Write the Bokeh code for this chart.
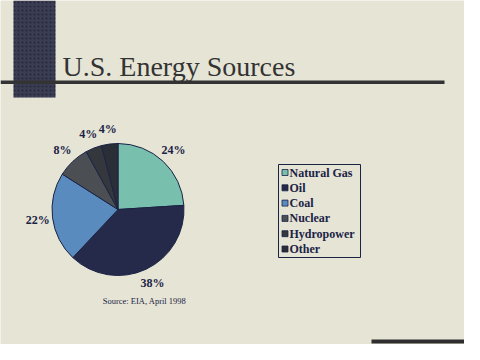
import math
from bokeh.plotting import figure
from bokeh.models import Range1d, ColumnDataSource
from bokeh.core.properties import value
from bokeh.embed import file_html
from bokeh.resources import INLINE

# ---- data ----
title_text = "U.S. Energy Sources"
source_note = "Source: EIA, April 1998"
categories = ["Natural Gas", "Oil", "Coal", "Nuclear", "Hydropower", "Other"]
shares = [24, 38, 22, 8, 4, 4]
colors = ["#78bfae", "#252a4a", "#5a8bbf", "#4b4e52", "#34373c", "#2a2e36"]

# ---- layout (reference pixel coordinates) ----
PW, PH = 464, 344
BG = "#e5e4d5"
NAVY = "#1b2345"

p = figure(width=PW, height=PH,
           x_range=Range1d(0, PW), y_range=Range1d(PH, 0),
           output_backend="svg", toolbar_location=None,
           x_axis_location=None, y_axis_location=None,
           min_border=0, background_fill_color=BG, border_fill_color=BG)
p.outline_line_color = None
p.xgrid.visible = False
p.ygrid.visible = False

# decorations
p.quad(left=13, right=55, top=0, bottom=97, fill_color="#3a3d54", line_color=None,
       hatch_pattern="dot", hatch_color="#262836", hatch_scale=4, hatch_weight=1.5)
p.quad(left=0, right=444, top=80, bottom=83.5, fill_color="#333333", line_color=None)
p.quad(left=371, right=PW, top=339, bottom=343, fill_color="#2e2e2e", line_color=None)

# title
p.text(x=[62], y=[66], text=[title_text], text_font=value("Liberation Serif"),
       text_font_size="28px", text_color="#333333", text_baseline="alphabetic",
       text_align="left")

# pie
cx, cy, r = 117.5, 209, 66
total = sum(shares)
starts, ends, mids = [], [], []
acc = 0.0
for s in shares:
    a0 = math.pi / 2 - 2 * math.pi * acc / total
    a1 = math.pi / 2 - 2 * math.pi * (acc + s) / total
    starts.append(a0)
    ends.append(a1)
    mids.append((a0 + a1) / 2)
    acc += s

src = ColumnDataSource(dict(start=starts, end=ends, color=colors))
p.wedge(x=cx, y=cy, radius=r, start_angle="start", end_angle="end",
        direction="clock", fill_color="color", line_color=NAVY, line_width=1,
        source=src)

lr = 81
lx = [cx + lr * math.cos(m) for m in mids]
ly = [cy - lr * math.sin(m) for m in mids]
p.text(x=lx, y=ly, text=[f"{s}%" for s in shares], text_font=value("Liberation Serif"),
       text_font_size="12px", text_font_style="bold", text_color=NAVY,
       text_align="center", text_baseline="middle")

p.text(x=[144], y=[300], text=[source_note], text_font=value("Liberation Serif"),
       text_font_size="8.5px", text_color=NAVY, text_align="center",
       text_baseline="middle")

# legend
p.quad(left=278, right=360, top=164, bottom=257, fill_color=None,
       line_color=NAVY, line_width=1)
ly0, dy = 172, 15.3
rows_y = [ly0 + dy * i for i in range(len(categories))]
p.scatter(x=[284.5] * len(categories), y=rows_y, marker="square", size=6,
          fill_color=colors, line_color=NAVY, line_width=0.8)
p.text(x=[289] * len(categories), y=rows_y, text=categories,
       text_font=value("Liberation Serif"), text_font_size="12px",
       text_font_style="bold", text_color=NAVY, text_align="left",
       text_baseline="middle")

open("out.html", "w").write(file_html(p, INLINE))
